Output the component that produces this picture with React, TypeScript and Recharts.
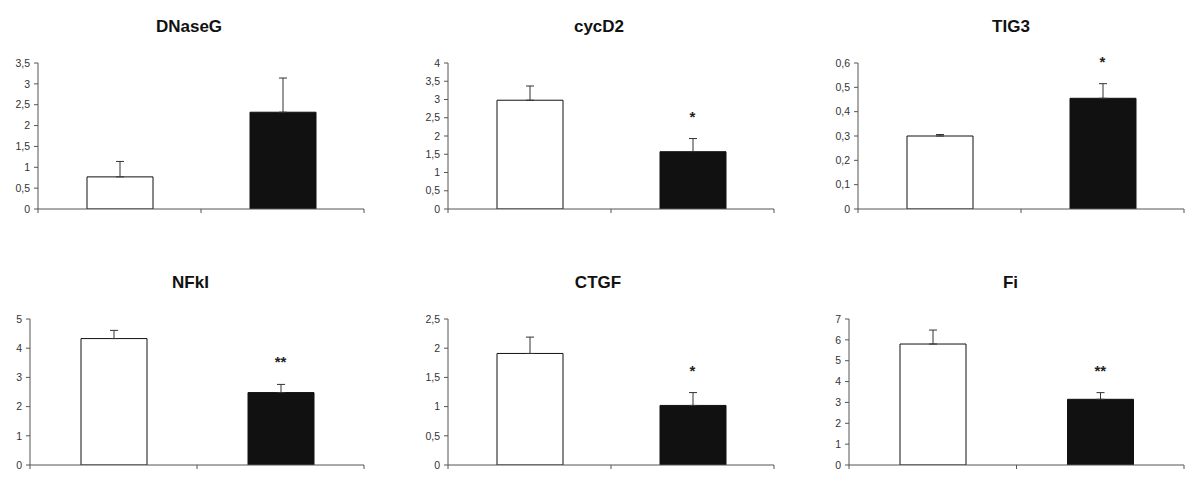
import React from 'react';
import { BarChart, Bar, XAxis, YAxis, Cell, ErrorBar, ReferenceDot } from 'recharts';

// gene panels
const genes = ['DNaseG', 'cycD2', 'TIG3', 'NFkI', 'CTGF', 'Fi'];
const groups = ['control', 'treated'];
const controlMean = [0.77, 2.98, 0.3, 4.33, 1.91, 5.8];
const controlSd = [0.37, 0.39, 0.006, 0.28, 0.28, 0.67];
const treatedMean = [2.32, 1.57, 0.455, 2.48, 1.02, 3.15];
const treatedSd = [0.82, 0.36, 0.06, 0.28, 0.22, 0.32];
const significance = ['', '*', '*', '**', '*', '**'];
const yMax = [3.5, 4, 0.6, 5, 2.5, 7];
const yTicks = [
    [0, 0.5, 1, 1.5, 2, 2.5, 3, 3.5],
    [0, 0.5, 1, 1.5, 2, 2.5, 3, 3.5, 4],
    [0, 0.1, 0.2, 0.3, 0.4, 0.5, 0.6],
    [0, 1, 2, 3, 4, 5],
    [0, 0.5, 1, 1.5, 2, 2.5],
    [0, 1, 2, 3, 4, 5, 6, 7],
];

// panel placement on the page (pixels)
const plotLeft = [38, 448, 858, 30, 448, 849];
const plotRight = [364, 774, 1184, 364, 774, 1184];
const plotTop = [62.5, 62.5, 62.5, 319, 319, 319];
const titleX = [189, 599, 1011, 190.5, 598, 1010.5];
const titleBaseline = [31.7, 31.7, 31.7, 288.3, 288.3, 288.3];

const PLOT_H = 146;
const AXIS_W = 60;
const PAD_TOP = 20;
const FONT = '"Liberation Sans", Arial, sans-serif';
const AXIS_COLOR = '#555';

const fmt = (v: number) => String(v).replace('.', ',');

// Excel-style category ticks: drawn on the band edges, not the band centres
const edgeTick = (halfBand: number) => (props: any) => {
    const { x, y, payload, index, visibleTicksCount } = props;
    const half = typeof payload?.offset === 'number' && payload.offset > 0 ? payload.offset : halfBand;
    const last = index === visibleTicksCount - 1;
    return (
        <g>
            <line x1={x - half} x2={x - half} y1={y} y2={y + 4} stroke={AXIS_COLOR} />
            {last && <line x1={x + half} x2={x + half} y1={y} y2={y + 4} stroke={AXIS_COLOR} />}
        </g>
    );
};

const Panel = ({ i }: { i: number }) => {
    const data = groups.map((g, k) => ({
        group: g,
        value: k === 0 ? controlMean[i] : treatedMean[i],
        sd: [0, k === 0 ? controlSd[i] : treatedSd[i]],
    }));
    const plotW = plotRight[i] - plotLeft[i];

    return (
        <div style={{ position: 'absolute', left: plotLeft[i] - AXIS_W, top: plotTop[i] - PAD_TOP }}>
            <BarChart
                width={AXIS_W + plotW + 10}
                height={PAD_TOP + PLOT_H + 10}
                data={data}
                margin={{ top: PAD_TOP, right: 10, left: 0, bottom: 0 }}
                style={{ overflow: 'visible' }}
            >
                <XAxis
                    dataKey="group"
                    type="category"
                    height={10}
                    tickSize={0}
                    tickMargin={0}
                    tickLine={false}
                    axisLine={{ stroke: AXIS_COLOR }}
                    tick={edgeTick(plotW / 4)}
                    interval={0}
                />
                <YAxis
                    width={AXIS_W}
                    domain={[0, yMax[i]]}
                    ticks={yTicks[i]}
                    interval={0}
                    tickSize={4}
                    tickMargin={4}
                    tickFormatter={fmt}
                    axisLine={{ stroke: AXIS_COLOR }}
                    tickLine={{ stroke: AXIS_COLOR }}
                    tick={{ fontSize: 10.5, fill: '#333', fontFamily: FONT }}
                    allowDataOverflow
                />
                <Bar dataKey="value" barSize={66} stroke="#111" strokeWidth={1} isAnimationActive={false}>
                    {data.map((d, k) => (
                        <Cell key={d.group} fill={k === 0 ? '#ffffff' : '#111111'} />
                    ))}
                    <ErrorBar dataKey="sd" direction="y" width={4} stroke="#333" strokeWidth={1} isAnimationActive={false} />
                </Bar>
                {significance[i] && (
                    <ReferenceDot
                        x="treated"
                        y={treatedMean[i] + treatedSd[i]}
                        r={1}
                        fill="none"
                        stroke="none"
                        label={{
                            value: significance[i],
                            position: 'top',
                            offset: 16,
                            fontSize: 15,
                            fontWeight: 'bold',
                            fill: '#222',
                            fontFamily: FONT,
                        }}
                    />
                )}
            </BarChart>
        </div>
    );
};

export default function App() {
    return (
        <div style={{ position: 'absolute', left: 0, top: 0, width: 1200, height: 490, background: '#fff', fontFamily: FONT }}>
            <svg width={1200} height={490} style={{ position: 'absolute', left: 0, top: 0 }}>
                {genes.map((g, i) => (
                    <text
                        key={g}
                        x={titleX[i]}
                        y={titleBaseline[i]}
                        textAnchor="middle"
                        fontSize={17}
                        fontWeight="bold"
                        fill="#111"
                        fontFamily={FONT}
                    >
                        {g}
                    </text>
                ))}
            </svg>
            {genes.map((g, i) => (
                <Panel key={g} i={i} />
            ))}
        </div>
    );
}
